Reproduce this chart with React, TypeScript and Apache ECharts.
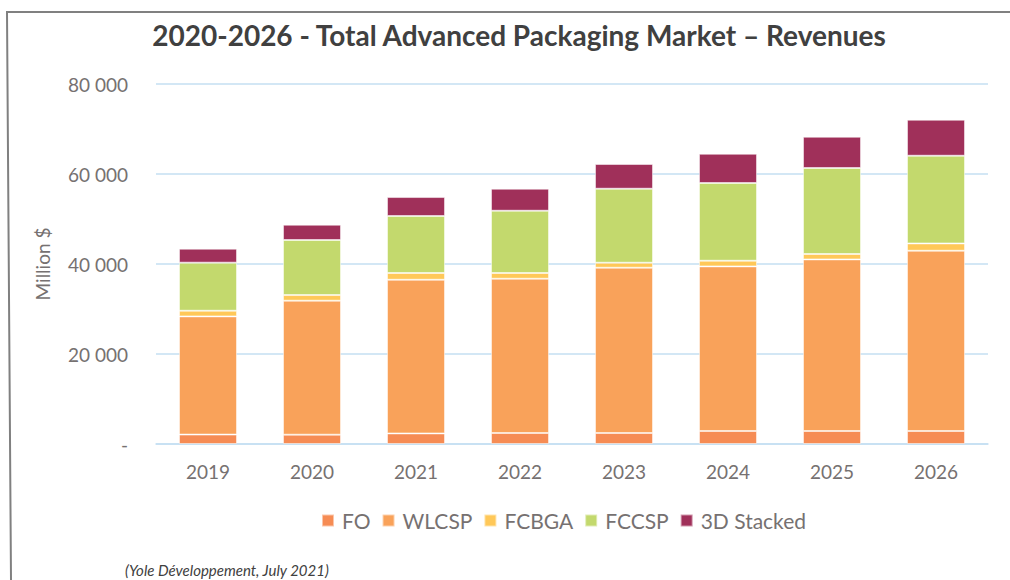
import React, { useEffect, useRef } from "react";
import * as echarts from "echarts";

const years = ["2019", "2020", "2021", "2022", "2023", "2024", "2025", "2026"];
const seriesNames = ["FO", "WLCSP", "FCBGA", "FCCSP", "3D Stacked"];
const fo = [2100, 2070, 2350, 2440, 2440, 2890, 2890, 2890];
const wlcsp = [26260, 29780, 34150, 34290, 36740, 36580, 38130, 40060];
const fcbga = [1260, 1250, 1500, 1270, 1110, 1260, 1200, 1620];
const fccsp = [10680, 12230, 12660, 13840, 16440, 17270, 19110, 19490];
const stacked3d = [3100, 3400, 4220, 4890, 5490, 6500, 6950, 8000];
const colors = ["#F68C54", "#F9A25A", "#FFC858", "#C3D96D", "#A0305A"];

const FONT = "Lato";
const GREY = "#767171";

export default function App() {
  const ref = useRef<HTMLDivElement>(null);
  useEffect(() => {
    if (!ref.current) return;
    const chart = echarts.init(ref.current, null, { renderer: "svg" });
    const dataSets = [fo, wlcsp, fcbga, fccsp, stacked3d];
    chart.setOption({
      animation: false,
      backgroundColor: "#ffffff",
      title: {
        text: "2020-2026 - Total Advanced Packaging Market – Revenues",
        left: 514,
        top: 16,
        textAlign: "center",
        textStyle: { fontFamily: FONT, fontSize: 28, fontWeight: "bold", color: "#404040" },
      },
      legend: {
        data: seriesNames,
        left: 316,
        top: 505,
        itemWidth: 12,
        itemHeight: 12,
        itemGap: 11,
        icon: "rect",
        textStyle: { fontFamily: FONT, fontSize: 21, color: GREY, padding: [0, 0, 0, 3] },
      },
      grid: { left: 156, right: 22, top: 84, bottom: 136, containLabel: false },
      xAxis: {
        type: "category",
        data: years,
        axisLine: { lineStyle: { color: "#C5DFF2", width: 1.5 } },
        axisTick: { show: false },
        axisLabel: { fontFamily: FONT, fontSize: 19, color: GREY, margin: 18 },
      },
      yAxis: {
        type: "value",
        min: 0,
        max: 80000,
        interval: 20000,
        name: "Million $",
        nameLocation: "middle",
        nameGap: 104,
        nameTextStyle: { fontFamily: FONT, fontSize: 19, color: GREY },
        axisLine: { show: false },
        axisTick: { show: false },
        splitLine: { lineStyle: { color: "#C5DFF2", width: 1.5 } },
        axisLabel: {
          fontFamily: FONT,
          fontSize: 19,
          color: GREY,
          margin: 28,
          formatter: (v: number) =>
            v === 0 ? "-" : String(v).replace(/\B(?=(\d{3})+(?!\d))/g, " "),
        },
      },
      series: seriesNames.map((name, i) => ({
        name,
        type: "bar",
        stack: "total",
        barWidth: 58,
        data: dataSets[i],
        itemStyle: {
          color: colors[i],
          borderColor: "rgba(255,255,255,0.5)",
          borderWidth: 1,
        },
      })),
      graphic: [
        {
          type: "polyline",
          shape: { points: [[1010, 12], [7, 12], [11, 580]] },
          style: { stroke: "#808080", lineWidth: 2, fill: "none" },
        },
        {
          type: "text",
          left: 125,
          top: 562,
          style: {
            text: "(Yole Développement, July 2021)",
            fontFamily: FONT,
            fontStyle: "italic",
            fontSize: 15,
            fill: "#404040",
          },
        },
      ],
    });
    return () => chart.dispose();
  }, []);
  return (
    <div
      ref={ref}
      style={{ position: "absolute", left: 0, top: 0, width: 1010, height: 580 }}
    />
  );
}
